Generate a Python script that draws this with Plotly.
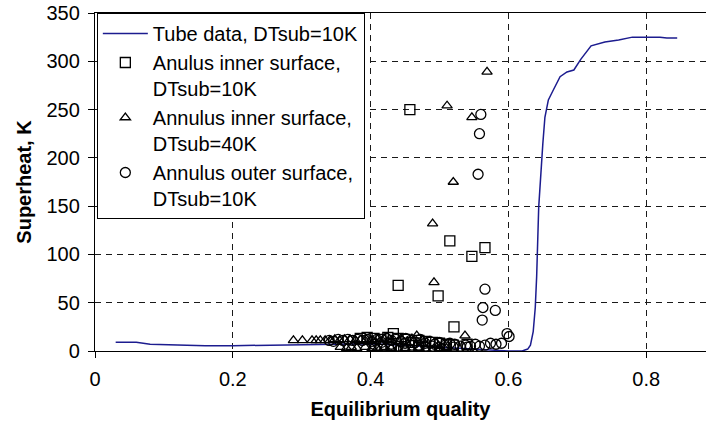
import plotly.graph_objects as go

# Tube data, DTsub = 10K (continuous wall superheat profile)
tube_x = [0.03, 0.06, 0.08, 0.12, 0.16, 0.20, 0.25, 0.30, 0.35, 0.40, 0.45, 0.50,
          0.53, 0.56, 0.58, 0.60, 0.62, 0.628, 0.632, 0.636, 0.639, 0.641, 0.644,
          0.647, 0.650, 0.653, 0.658, 0.665, 0.675, 0.685, 0.695, 0.705, 0.72,
          0.74, 0.76, 0.78, 0.80, 0.82, 0.83, 0.845]
tube_y = [9, 9, 7, 6, 5.5, 5.5, 6, 7, 7.5, 7.5, 6, 4,
          2.5, 1, 0.5, 0, 0, 2, 6, 20, 45, 77, 149,
          185, 215, 242, 260, 270, 284, 289, 291, 302, 316,
          320, 322, 325, 325, 325, 324, 324]

# Annulus inner surface, DTsub = 10K
sq_x = [0.457, 0.440, 0.515, 0.566, 0.547, 0.498, 0.521, 0.433,
        0.385, 0.395, 0.405, 0.415, 0.425, 0.440, 0.450, 0.460, 0.470, 0.480,
        0.490, 0.500, 0.510, 0.520, 0.540, 0.448, 0.493, 0.430, 0.470, 0.415]
sq_y = [250, 68, 114, 107, 98, 57, 25, 18,
        13, 14, 13, 12, 14, 13, 12, 9, 11, 10,
        9, 8, 7, 6, 7, 0, 0, 4, 5, 6]

# Annulus inner surface, DTsub = 40K
tri_x = [0.569, 0.511, 0.547, 0.520, 0.490, 0.492, 0.537,
         0.288, 0.301, 0.315, 0.321, 0.327, 0.334, 0.341, 0.348, 0.355, 0.362,
         0.370, 0.378, 0.386, 0.394, 0.402, 0.410, 0.420, 0.430, 0.445, 0.460,
         0.467, 0.475,
         0.356, 0.365, 0.372, 0.380, 0.392, 0.402, 0.410, 0.420, 0.430, 0.440,
         0.450, 0.460, 0.470, 0.480, 0.490, 0.500, 0.510]
tri_y = [289, 254, 242, 175, 132, 71, 16,
         11, 11, 11, 11, 11, 11, 11, 12, 11, 12,
         12, 11, 12, 12, 11, 12, 12, 11, 12, 13,
         16, 11,
         4, 3, 4, 3, 4, 3, 3, 4, 3, 2,
         3, 2, 3, 2, 1, 3, 3]

# Annulus outer surface, DTsub = 10K
circ_x = [0.560, 0.558, 0.556, 0.566, 0.563, 0.581, 0.562,
          0.598, 0.601, 0.590, 0.582, 0.574, 0.566, 0.558, 0.552, 0.545, 0.538,
          0.530, 0.522, 0.515, 0.508, 0.500, 0.493, 0.486, 0.479, 0.472, 0.465,
          0.458, 0.451, 0.444, 0.437, 0.430, 0.423, 0.416, 0.409, 0.402, 0.395,
          0.388, 0.381, 0.374, 0.367, 0.360, 0.353, 0.346, 0.340,
          0.420, 0.440, 0.460, 0.480, 0.500, 0.520, 0.540, 0.405, 0.430, 0.450,
          0.470, 0.490, 0.510]
circ_y = [245, 225, 183, 64, 45, 42, 32,
          18, 15, 8, 7, 8, 6, 5, 7, 5, 6,
          5, 7, 8, 6, 9, 7, 10, 8, 12, 9,
          11, 13, 10, 12, 11, 13, 9, 12, 10, 12,
          11, 12, 11, 12, 11, 12, 10, 11,
          6, 5, 6, 5, 4, 4, 4, 7, 7, 8,
          6, 5, 4]

FONT = "Liberation Sans, Arial, sans-serif"
GRID = "#1a1a1a"

fig = go.Figure()
fig.add_trace(go.Scatter(
    x=tube_x, y=tube_y, mode="lines", name="Tube data, DTsub=10K",
    line=dict(color="#1c1c8f", width=1.5)))
fig.add_trace(go.Scatter(
    x=sq_x, y=sq_y, mode="markers", name="Anulus inner surface,<br>DTsub=10K",
    marker=dict(symbol="square-open", size=10, color="black", line=dict(width=1.3))))
fig.add_trace(go.Scatter(
    x=tri_x, y=tri_y, mode="markers", name="Annulus inner surface,<br>DTsub=40K",
    marker=dict(symbol="triangle-up-open", size=9, color="black", line=dict(width=1.3))))
fig.add_trace(go.Scatter(
    x=circ_x, y=circ_y, mode="markers", name="Annulus outer surface,<br>DTsub=10K",
    marker=dict(symbol="circle-open", size=10, color="black", line=dict(width=1.3))))

fig.update_layout(
    width=706, height=427,
    margin=dict(l=95, r=0, t=13, b=76),
    paper_bgcolor="white", plot_bgcolor="white",
    font=dict(family=FONT, size=20, color="black"),
    showlegend=True,
    legend=dict(
        x=0.003, y=1.0, xanchor="left", yanchor="top",
        bgcolor="white", bordercolor="black", borderwidth=1,
        font=dict(family=FONT, size=20, color="black"),
        valign="top", tracegroupgap=0, itemwidth=45,
    ),
    xaxis=dict(
        range=[0, 0.8868], tickvals=[0, 0.2, 0.4, 0.6, 0.8],
        ticktext=["0", "0.2", "0.4", "0.6", "0.8"],
        showline=True, linecolor="black", linewidth=1.3, mirror=True,
        ticks="outside", ticklen=6, tickcolor="black", ticklabelstandoff=4,
        showgrid=True, gridcolor=GRID, griddash="6px,5px", gridwidth=1,
        zeroline=False,
        title=dict(text="<b>Equilibrium quality</b>", standoff=12,
                   font=dict(family=FONT, size=20)),
        tickfont=dict(family=FONT, size=20),
    ),
    yaxis=dict(
        range=[0, 350], tickvals=[0, 50, 100, 150, 200, 250, 300, 350],
        showline=True, linecolor="black", linewidth=1.3, mirror=False,
        ticks="outside", ticklen=6, tickcolor="black", ticklabelstandoff=4,
        showgrid=True, gridcolor=GRID, griddash="6px,5px", gridwidth=1,
        zeroline=False,
        title=dict(text="<b>Superheat, K</b>", standoff=9,
                   font=dict(family=FONT, size=20)),
        tickfont=dict(family=FONT, size=20),
    ),
)

fig.write_html("out.html")
